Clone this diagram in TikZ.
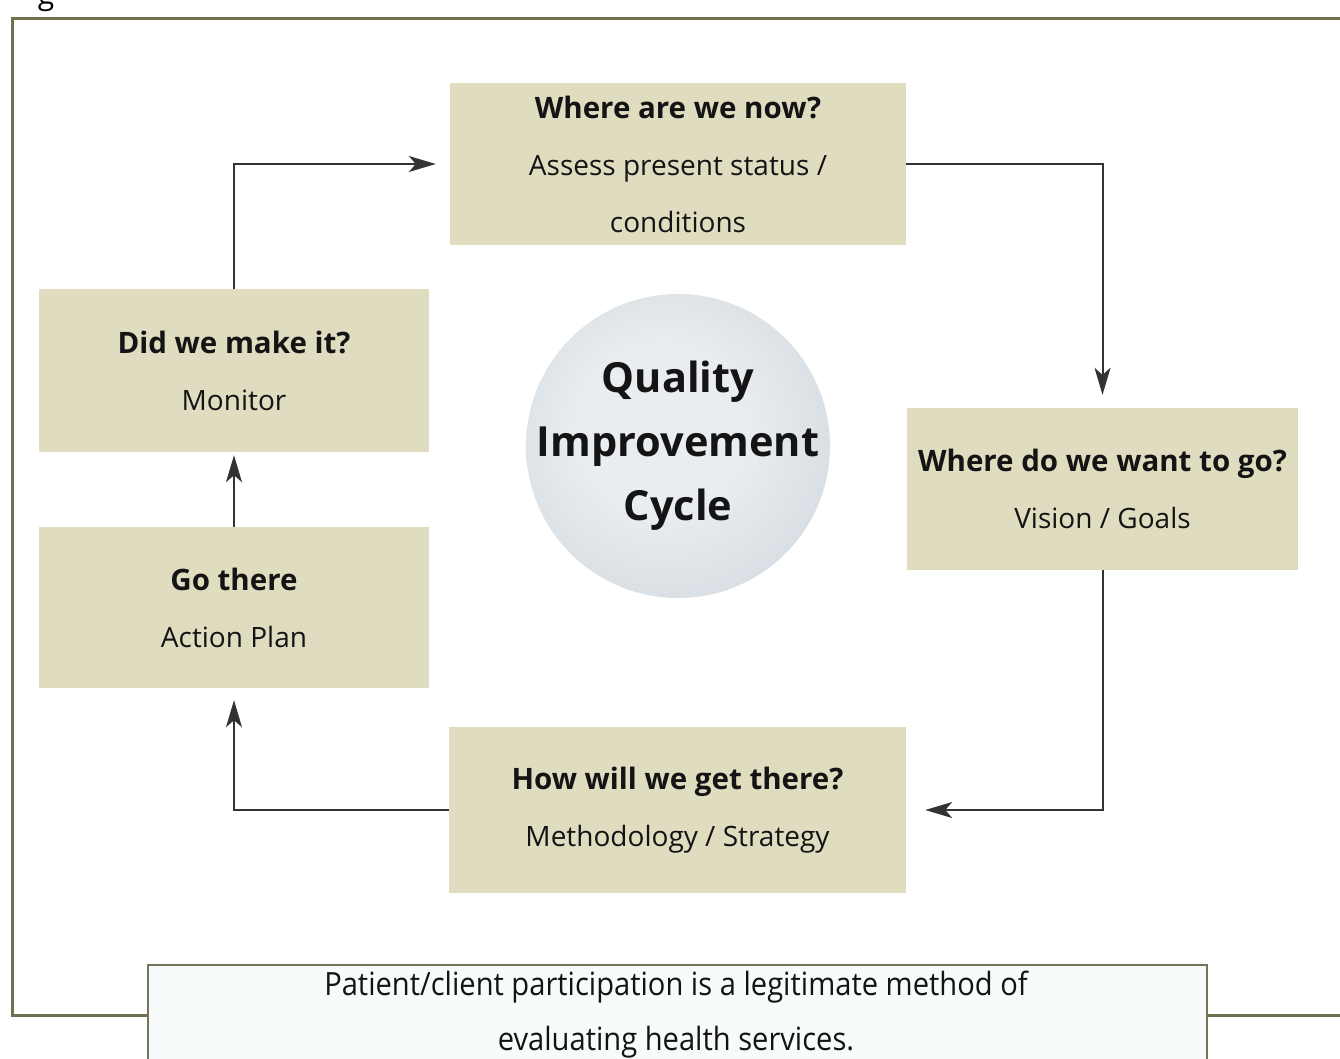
\documentclass[tikz,border=0pt]{standalone}
\usepackage{fontspec}
\setmainfont{Open Sans}
\newfontfamily\narrowsans{Open Sans}[FakeStretch=0.91]
\usetikzlibrary{arrows.meta,positioning,calc}
\definecolor{Ink}{HTML}{141414}
\definecolor{Wire}{HTML}{333333}
\definecolor{Sand}{HTML}{DFDCC0}
\definecolor{Olive}{HTML}{70704E}
\definecolor{Frost}{HTML}{F8FBFB}
\definecolor{SphereIn}{HTML}{E9EDF1}
\definecolor{SphereOut}{HTML}{B6C0C7}
\pgfdeclareradialshading{sphere}{\pgfpoint{-4bp}{4bp}}{%
  color(0bp)=(SphereIn); color(14bp)=(SphereIn); color(44bp)=(SphereOut!70!SphereIn); color(50bp)=(SphereOut)}
\newcommand\headline[1]{{\fontsize{29.5}{57}\selectfont\bfseries #1}}
\tikzset{
  >={Stealth[length=27pt,width=16pt,inset=7pt]},
  stage/.style={rectangle,fill=Sand,draw=none,align=center,text=Ink,inner sep=0pt,
    font=\fontsize{28}{57}\selectfont},
  hub/.style={circle,shading=sphere,draw=none,minimum size=304pt,inner sep=0pt},
  hubtext/.style={align=center,inner sep=0pt,font=\fontsize{41.5}{64}\selectfont\bfseries,text=Ink},
  flow/.style={->,line width=2pt,draw=Wire},
  frame/.style={draw=Olive,line width=3pt},
  notebox/.style={draw=Olive!75!gray,line width=2.5pt,fill=Frost}
}
\begin{document}
\begin{tikzpicture}[x=1pt,y=-1pt]
  \useasboundingbox (0,0) rectangle (1340,1058);
  \clip (0,0) rectangle (1340,1058);
  \node[anchor=base,font=\fontsize{30}{36}\selectfont] (figtag) at (46,4) {g};
  \draw[frame] (12,18) rectangle (1380,1015);
  % the five stages of the cycle
  \node[stage,minimum width=456pt,minimum height=162pt] (now) at (678,164)
    {\headline{Where are we now?}\\Assess present status /\\conditions};
  \node[stage,minimum width=391pt,minimum height=162pt] (goal) at (1102.5,489)
    {\headline{Where do we want to go?}\\Vision / Goals};
  \node[stage,minimum width=457pt,minimum height=166pt] (how) at (677.5,810)
    {\headline{How will we get there?}\\Methodology / Strategy};
  \node[stage,minimum width=390pt,minimum height=161pt] (act) at (234,607.5)
    {\headline{Go there}\\Action Plan};
  \node[stage,minimum width=390pt,minimum height=163pt] (monitor) at (234,370.5)
    {\headline{Did we make it?}\\Monitor};
  \node[hub] (qic) at (678,446) {};
  \node[hubtext] (qictext) at (qic) {Quality\\Improvement\\Cycle};
  % connectors
  \draw[flow,shorten >=14pt] (monitor.north) |- (now.west);
  \draw[flow,shorten >=13pt] (now.east) -| (goal.north);
  \draw[flow,shorten >=19pt] (goal.south) |- (how.east);
  \draw[flow,shorten >=12pt] (how.west) -| (act.south);
  \draw[flow,shorten >=3pt] (act.north) -- (monitor.south);
  % note at the foot
  \draw[notebox] (148,965) rectangle (1207,1080);
  \node[align=center,text=Ink,font=\narrowsans\fontsize{32}{55}\selectfont] (note) at (676,1015)
    {Patient/client participation is a legitimate method of\\evaluating health services.};
\end{tikzpicture}
\end{document}
